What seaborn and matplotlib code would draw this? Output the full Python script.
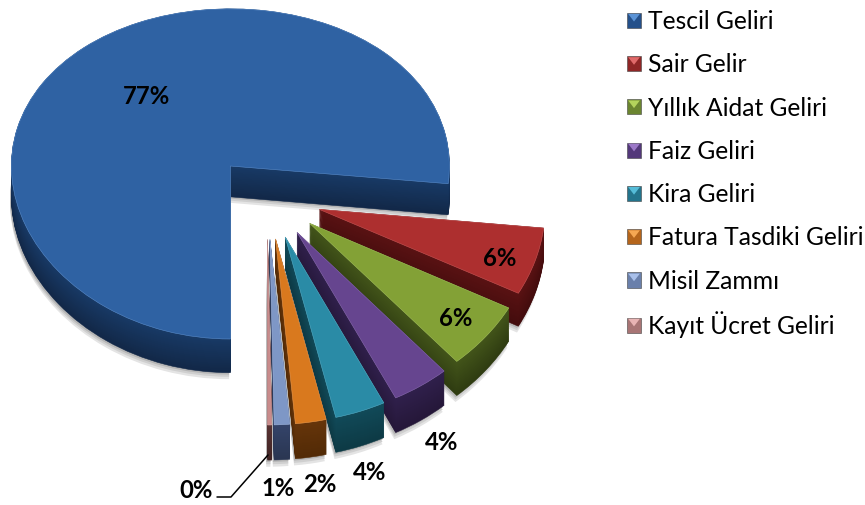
import numpy as np
import matplotlib
matplotlib.use('Agg')
import matplotlib.pyplot as plt
import seaborn as sns
from matplotlib.legend_handler import HandlerBase
from matplotlib.lines import Line2D
from matplotlib.patches import Polygon, Rectangle

# Data
labels = ['Tescil Geliri', 'Sair Gelir', 'Yıllık Aidat Geliri', 'Faiz Geliri',
          'Kira Geliri', 'Fatura Tasdiki Geliri', 'Misil Zammı', 'Kayıt Ücret Geliri']
values = [76.7, 6.1, 5.9, 4.1, 3.6, 2.2, 1.1, 0.3]

# Colours
top_colors = ['#2f62a3', '#ad2f2f', '#83a136', '#66458f', '#2a8ba6', '#d9791e', '#7e97c6', '#c98b8b']
wall_upper = ['#183a66', '#5a1213', '#43551a', '#30204c', '#114a59', '#66350a', '#34446a', '#5a3434']
wall_lower = ['#122848', '#430c0d', '#2f3c11', '#251739', '#0d3a45', '#522a06', '#2a3652', '#402424']
legend_dark = ['#24508a', '#8f2626', '#6b8530', '#53387a', '#23748c', '#b5651b', '#6a80ab', '#a87575']
legend_light = ['#5b93d6', '#e06a6a', '#b4d35c', '#9c78c8', '#55bcd8', '#f5a752', '#a9c0ea', '#e8b4b4']
rim_colors = ['#5a8ccb', '#c95555', '#a3c05a', '#8a6bb0', '#55aec8', '#eb9a4e', '#a0b6de', '#dcaaaa']

# Layout, in pixels of the 865x505 picture
W, H = 865, 505
cx, cy = 267, 197
rx = 219
ry = 168
bend = 0.047
explode = 0.25
depth = 0.185
outer_radius = 1.03  # slices in front come out a bit larger
pct_pos = [(146, 96), (500, 259), (456, 319), (442, 442), (370, 473), (320, 484), (278, 488), (196, 491)]

sns.set_theme(style='white')
plt.rcParams['font.family'] = ['Lato', 'DejaVu Sans']


def forward(y):
    return y - bend * y ** 2


def inverse(y):
    return (1 - np.sqrt(np.maximum(1 - 4 * bend * y, 0))) / (2 * bend)


def draw_pie(dx, dy, cols):
    wedges, _ = ax.pie(values, center=(dx, dy), colors=cols, explode=[explode] * len(values),
                       startangle=270, counterclock=False, normalize=True)
    for w in wedges[1:]:
        w.set_radius(outer_radius)
    return wedges


fig = plt.figure(figsize=(W / 100, H / 100), dpi=100)
ax = fig.add_axes([0, 0, 1, 1])

# soft shadow under the walls
for off, col in [(0.035, '#e4e4e4'), (0.022, '#cfcfcf'), (0.01, '#b5b5b5')]:
    for w in draw_pie(-0.006, -depth - off, [col] * len(values)):
        w.set_linewidth(0)

# stack of pies for the side walls
n_layers = 36
ramps = [sns.blend_palette([u, l], n_layers) for u, l in zip(wall_upper, wall_lower)]
for i, dy in enumerate(np.linspace(0, depth, n_layers)[::-1]):
    cols = [r[n_layers - 1 - i] for r in ramps]
    for w, c in zip(draw_pie(0, -dy, cols), cols):
        w.set_edgecolor(c)
        w.set_linewidth(0.4)

# top faces
tops = draw_pie(0, 0, top_colors)
for w, c in zip(tops, rim_colors):
    w.set_edgecolor(c)
    w.set_linewidth(0.4)

ax.set_aspect('auto')
ax.set_yscale('function', functions=(forward, inverse))
ax.set_xlim(-cx / rx, (W - cx) / rx)
ax.set_ylim(inverse((cy - H) / ry), inverse(cy / ry))
ax.axis('off')

# percent labels
for v, (px, py) in zip(values, pct_pos):
    fig.text(px / W, 1 - py / H, f'{v:.0f}%', ha='center', va='center',
             fontsize=17.2, fontweight='bold', color='black')

# leader line of the smallest slice
fig.add_artist(Line2D(np.array([268, 231, 217]) / W, 1 - np.array([455, 497, 497]) / H,
                      color='black', lw=1.1))


class BevelHandler(HandlerBase):
    def __init__(self, dark, light):
        super().__init__()
        self.dark = dark
        self.light = light

    def create_artists(self, legend, orig_handle, xdescent, ydescent, width, height, fontsize, trans):
        x0, y0 = -xdescent, -ydescent
        box = Rectangle((x0, y0), width, height, facecolor=self.dark,
                        edgecolor='#444444', lw=0.4, transform=trans)
        m = width * 0.08
        tri = Polygon([(x0 + m, y0 + height - m), (x0 + width - m, y0 + height - m),
                       (x0 + width / 2, y0 + height * 0.42)],
                      facecolor=self.light, edgecolor='none', transform=trans)
        return [box, tri]


# legend, last row apart because the Ü would stretch its row
handler_map = {w: BevelHandler(d, c) for w, d, c in zip(tops, legend_dark, legend_light)}
legend_args = dict(handler_map=handler_map, loc='upper left', frameon=False, fontsize=17.7,
                   handlelength=0.57, handleheight=0.57, handletextpad=0.28, labelspacing=0.825,
                   borderpad=0, borderaxespad=0, labelcolor='black')
fig.legend(tops[:7], labels[:7], bbox_to_anchor=(627 / W, 1 - 10 / H), **legend_args)
fig.legend(tops[7:], labels[7:], bbox_to_anchor=(627 / W, 1 - 311 / H), **legend_args)

fig.savefig('out.png', dpi=100, facecolor='white')
